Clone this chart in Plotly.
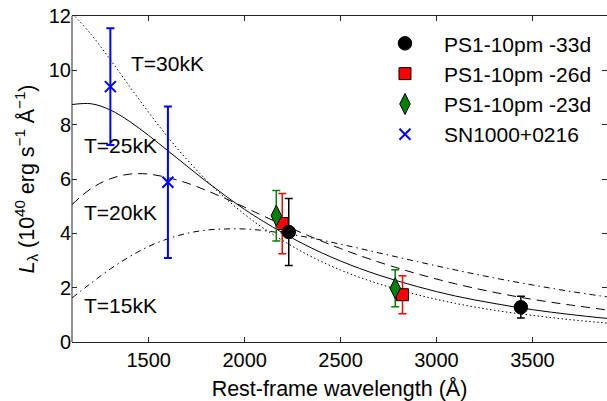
import plotly.graph_objects as go

# Blackbody model curves (L_lambda, 1e40 erg/s/A) sampled on a wavelength grid
wavelength_grid = [1100, 1200, 1300, 1400, 1500, 1600, 1700, 1800, 1900, 2000,
                   2100, 2300, 2500, 2700, 2900, 3100, 3300, 3500, 3700, 3900]
bb_30kK = [12.10, 11.32, 10.39, 9.41, 8.45, 7.54, 6.71, 5.96, 5.29, 4.70,
           4.18, 3.32, 2.65, 2.14, 1.74, 1.42, 1.17, 0.98, 0.82, 0.69]
bb_25kK = [8.74, 8.77, 8.54, 8.12, 7.60, 7.04, 6.47, 5.91, 5.38, 4.88,
           4.43, 3.63, 2.98, 2.46, 2.04, 1.69, 1.42, 1.19, 1.01, 0.86]
bb_20kK = [5.06, 5.65, 6.01, 6.18, 6.18, 6.05, 5.85, 5.58, 5.28, 4.96,
           4.63, 4.01, 3.44, 2.94, 2.51, 2.14, 1.83, 1.57, 1.36, 1.17]
bb_15kK = [1.62, 2.17, 2.69, 3.14, 3.52, 3.80, 4.00, 4.12, 4.16, 4.16,
           4.10, 3.89, 3.60, 3.28, 2.96, 2.65, 2.36, 2.10, 1.86, 1.65]

# Photometry
ps1_33d_wave = [2230, 3440]
ps1_33d_lum = [4.05, 1.28]
ps1_33d_err = [1.23, 0.40]

ps1_26d_wave = [2196, 2823]
ps1_26d_lum = [4.36, 1.74]
ps1_26d_err = [1.11, 0.70]

ps1_23d_wave = [2165, 2785]
ps1_23d_lum = [4.65, 1.98]
ps1_23d_err = [0.93, 0.68]

sn1000_wave = [1300, 1600]
sn1000_lum = [9.40, 5.88]
sn1000_err = [2.15, 2.79]

x_ticks = [1500, 2000, 2500, 3000, 3500]
y_ticks = [0, 2, 4, 6, 8, 10, 12]

# Curve labels: text, anchor wavelength, anchor luminosity
curve_labels = ["T=30kK", "T=25kK", "T=20kK", "T=15kK"]
label_wave = [1397, 1152, 1152, 1152]
label_lum = [10.27, 7.22, 4.75, 1.36]

FONT = "Liberation Sans, Arial, Helvetica, sans-serif"
AXIS_COLOR = "#262626"

fig = go.Figure()

curve_styles = [
    (bb_30kK, "1.5px,2.5px"),
    (bb_25kK, "solid"),
    (bb_20kK, "9px,6px"),
    (bb_15kK, "6px,4px,1.5px,4px"),
]
for values, dash in curve_styles:
    fig.add_trace(go.Scatter(
        x=wavelength_grid, y=values, mode="lines",
        line=dict(color="black", width=1, dash=dash, shape="spline"),
        showlegend=False, hoverinfo="skip",
    ))

def add_points(x, y, err, name, symbol, size, fill, edge, edge_w, bar_color, bar_w, rank):
    fig.add_trace(go.Scatter(
        x=x, y=y, mode="markers", name=name, legendrank=rank,
        marker=dict(symbol=symbol, size=size, color=fill,
                    line=dict(color=edge, width=edge_w)),
        error_y=dict(type="data", array=err, visible=True, color=bar_color,
                     thickness=bar_w, width=4),
    ))

add_points(ps1_26d_wave, ps1_26d_lum, ps1_26d_err, "PS1-10pm -26d",
           "square", 12, "red", "black", 1, "red", 1.5, 2)
add_points(ps1_23d_wave, ps1_23d_lum, ps1_23d_err, "PS1-10pm -23d",
           "diamond-tall", 15, "green", "black", 1, "green", 1.5, 3)
add_points(ps1_33d_wave, ps1_33d_lum, ps1_33d_err, "PS1-10pm -33d",
           "circle", 13.5, "black", "black", 1, "black", 1.5, 1)
add_points(sn1000_wave, sn1000_lum, sn1000_err, "SN1000+0216",
           "x-thin", 11, "blue", "blue", 2, "blue", 2, 4)

for text, xw, yl in zip(curve_labels, label_wave, label_lum):
    fig.add_annotation(x=xw, y=yl, text=text, showarrow=False,
                       xanchor="left", yanchor="middle",
                       font=dict(size=21, color="black", family=FONT))

tick_common = dict(
    ticks="inside", ticklen=5, tickwidth=1, tickcolor=AXIS_COLOR,
    mirror="ticks", showgrid=False, zeroline=False,
    tickfont=dict(size=20, color="black", family=FONT),
)

# Left spine drawn as a shape so the right edge keeps only its tick marks
fig.add_shape(type="line", xref="x domain", yref="y domain",
              x0=0, x1=0, y0=0, y1=1,
              line=dict(color=AXIS_COLOR, width=1), layer="above")

fig.update_layout(
    width=607, height=401,
    margin=dict(l=72, r=0, t=16, b=59),
    paper_bgcolor="white", plot_bgcolor="white",
    font=dict(family=FONT, size=20, color="black"),
    xaxis=dict(range=[1100, 3889], tickvals=x_ticks,
               showline=True, linecolor=AXIS_COLOR, linewidth=1,
               title=dict(text="Rest-frame wavelength (Å)",
                          font=dict(size=21.5, family=FONT), standoff=10),
               **tick_common),
    yaxis=dict(range=[0, 12], tickvals=y_ticks, showline=False,
               title=dict(text="<i>L</i><sub>λ</sub> (10<sup>40</sup> erg s<sup>−1</sup> Å<sup>−1</sup>)",
                          font=dict(size=21.5, family=FONT), standoff=8),
               **tick_common),
    legend=dict(x=0.5495, y=0.978, xanchor="left", yanchor="top",
                bgcolor="rgba(0,0,0,0)", borderwidth=0,
                font=dict(size=21, family=FONT, color="black"),
                itemsizing="trace", itemwidth=68),
)

fig.write_html("out.html")
